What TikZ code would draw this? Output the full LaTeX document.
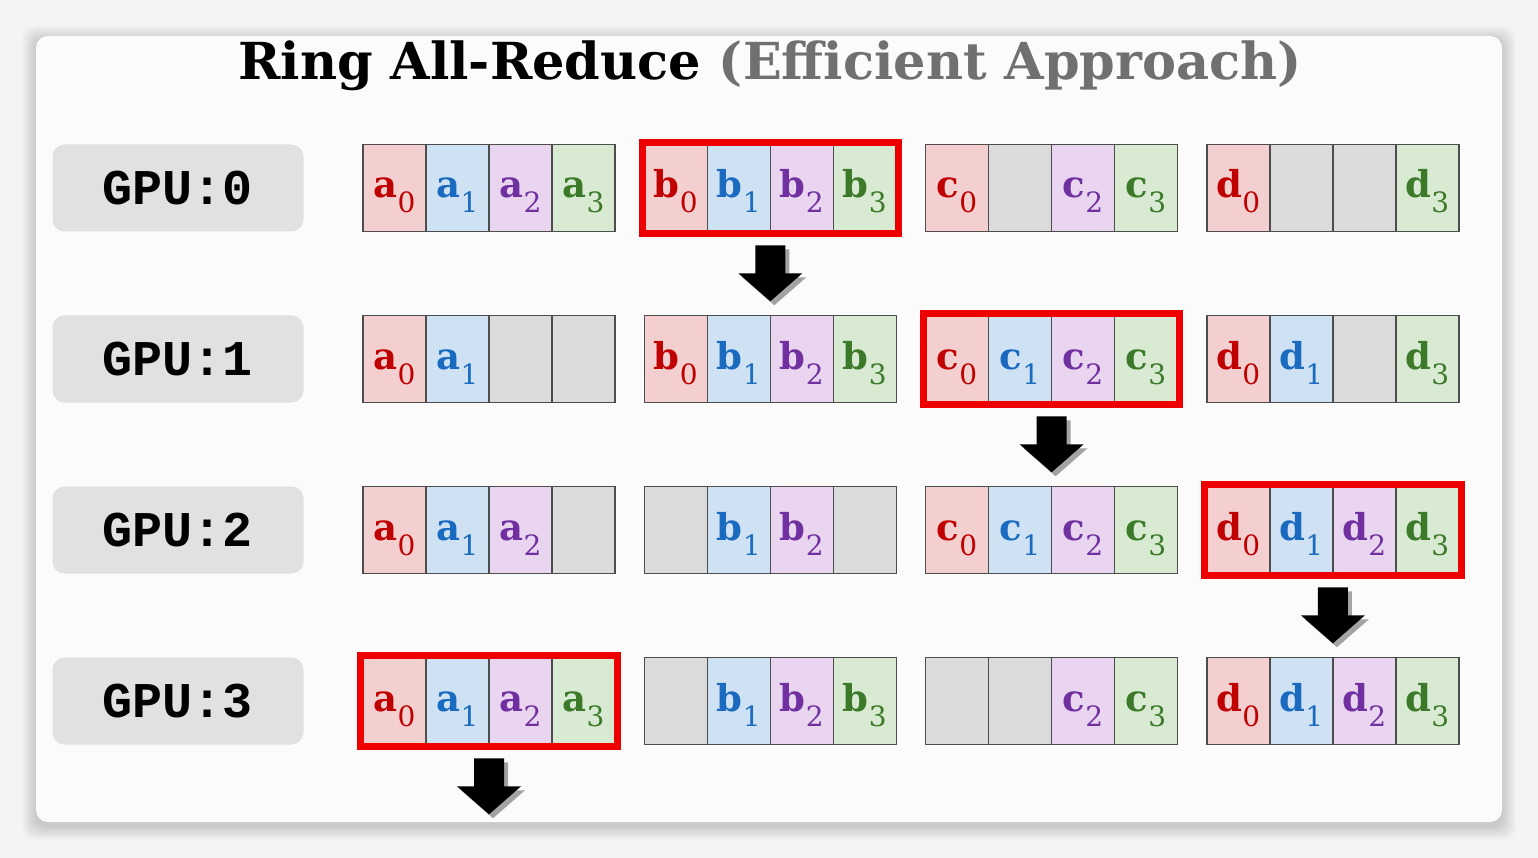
\documentclass[tikz,border=0pt]{standalone}
\usepackage{fontspec}
\setmainfont{DejaVu Serif}
\setmonofont{Liberation Mono}

\definecolor{pagebg}{HTML}{F4F4F4}
\definecolor{cardbg}{HTML}{FCFBFC}
\definecolor{gpubg}{HTML}{E2E1E2}
\definecolor{cellline}{HTML}{4D4D4D}
\definecolor{blank}{HTML}{DCDBDC}
\definecolor{fl0}{HTML}{F3CFCF}
\definecolor{fl1}{HTML}{CFE2F3}
\definecolor{fl2}{HTML}{EAD5F0}
\definecolor{fl3}{HTML}{D9EAD3}
\definecolor{tx0}{HTML}{C00000}
\definecolor{tx1}{HTML}{1A6BC0}
\definecolor{tx2}{HTML}{7030A0}
\definecolor{tx3}{HTML}{3C7A2A}
\definecolor{hlred}{HTML}{EE0000}
\definecolor{subtitle}{HTML}{707070}

\newcommand\cellname[2]{{\bfseries #1}\raisebox{-15pt}{\fontsize{28}{28}\selectfont #2}}

\tikzset{
  gpubox/.style={fill=gpubg, rounded corners=12pt, minimum width=251pt, minimum height=87pt,
    inner sep=0pt, font=\ttfamily\bfseries\fontsize{50}{50}\selectfont},
  cell/.style={draw=cellline, line width=1.2pt, minimum width=63pt, minimum height=87pt,
    inner sep=0pt, text height=25pt, text depth=5pt, font=\fontsize{37}{37}\selectfont},
  group/.style={draw=cellline, line width=1.6pt, minimum width=252pt, minimum height=87pt, inner sep=0pt},
  hl/.style={draw=hlred, line width=7pt},
}

\begin{document}
\begin{tikzpicture}[x=1pt,y=-1pt]
    \useasboundingbox (0,0) rectangle (1538,858);

    % Fundo e cartao
    \fill[pagebg] (0,0) rectangle (1538,858);
    \foreach \i in {1,...,14}
        \fill[black, opacity=.012, rounded corners=12pt] (36-\i,36-\i+4) rectangle (1502+\i,822+\i+4);
    \fill[cardbg, rounded corners=12pt] (36,36) rectangle (1502,822);

    % Titulo
    \node[anchor=base, font=\bfseries\fontsize{51}{51}\selectfont] (title) at (770,80)
        {Ring All-Reduce {\color{subtitle}(Efficient Approach)}};

    % GPUs e blocos
    \foreach \r/\yy/\full/\gaps in {
        0/188/{0/0,0/1,0/2,0/3,1/0,1/1,1/2,1/3,2/0,2/2,2/3,3/0,3/3}/{2/1,3/1,3/2},
        1/359/{0/0,0/1,1/0,1/1,1/2,1/3,2/0,2/1,2/2,2/3,3/0,3/1,3/3}/{0/2,0/3,3/2},
        2/530/{0/0,0/1,0/2,1/1,1/2,2/0,2/1,2/2,2/3,3/0,3/1,3/2,3/3}/{0/3,1/0,1/3},
        3/701/{0/0,0/1,0/2,0/3,1/1,1/2,1/3,2/2,2/3,3/0,3/1,3/2,3/3}/{1/0,2/0,2/1}} {
        \node[gpubox] (gpu\r) at (178,\yy) {GPU:\r};
        \foreach \g/\k in \full
            \node[cell, fill=fl\k, text=tx\k] (c\r\g\k) at ({394.5+281.3*\g+63*\k},\yy)
                {\cellname{\ifcase\g a\or b\or c\or d\fi}{\k}};
        \foreach \g/\k in \gaps
            \node[cell, fill=blank] (c\r\g\k) at ({394.5+281.3*\g+63*\k},\yy) {};
        \foreach \g in {0,...,3}
            \node[group] (grp\r\g) at ({489+281.3*\g},\yy) {};
    }

    % Destaque e setas
    \foreach \r/\g in {0/1, 1/2, 2/3, 3/0} {
        \draw[hl] ([shift={(-1.5,-1.5)}]grp\r\g.north west) rectangle ([shift={(1.5,1.5)}]grp\r\g.south east);
        \path (grp\r\g.south) ++(0,13) coordinate (arr\r);
        \fill[black, opacity=.35] ([shift={(4,4)}]arr\r) ++(-15,0) -- ++(30,0) -- ++(0,28) -- ++(17,0)
            -- ++(-32,28) -- ++(-32,-28) -- ++(17,0) -- cycle;
        \fill[black] (arr\r) ++(-15,0) -- ++(30,0) -- ++(0,28) -- ++(17,0)
            -- ++(-32,28) -- ++(-32,-28) -- ++(17,0) -- cycle;
    }
\end{tikzpicture}
\end{document}
